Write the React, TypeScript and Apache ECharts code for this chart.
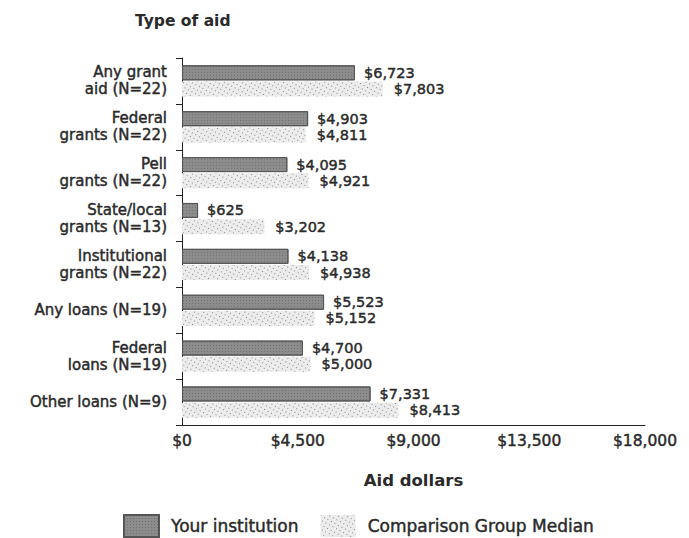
import React, { useEffect, useRef } from "react";
import * as echarts from "echarts";

const categories = [
  "Any grant\naid (N=22)",
  "Federal\ngrants (N=22)",
  "Pell\ngrants (N=22)",
  "State/local\ngrants (N=13)",
  "Institutional\ngrants (N=22)",
  "Any loans (N=19)",
  "Federal\nloans (N=19)",
  "Other loans (N=9)",
];
const yourInstitution = [6723, 4903, 4095, 625, 4138, 5523, 4700, 7331];
const comparisonMedian = [7803, 4811, 4921, 3202, 4938, 5152, 5000, 8413];
const seriesNames = ["Your institution", "Comparison Group Median"];
const xTicks = { min: 0, max: 18000, interval: 4500 };

const fmt = (v: number) => "$" + v.toLocaleString("en-US");
const FONT = "DejaVu Sans";
const TXT = "#2a2a2a";
const semi = { textBorderColor: TXT, textBorderWidth: 0.45 };

export default function App() {
  const ref = useRef<HTMLDivElement>(null);
  useEffect(() => {
    if (!ref.current) return;
    const chart = echarts.init(ref.current, null, { renderer: "svg" });
    chart.setOption({
      animation: false,
      backgroundColor: "#fff",
      textStyle: { fontFamily: FONT },
      title: {
        text: "Type of aid",
        left: 130,
        top: 8,
        textStyle: { fontFamily: FONT, fontSize: 15.5, fontWeight: "bold", color: TXT },
      },
      grid: { left: 182, right: 44, top: 58, bottom: 113, containLabel: false },
      legend: {
        top: 509,
        left: 118,
        itemWidth: 35,
        itemHeight: 22,
        itemGap: 22,
        icon: "rect",
        textStyle: {
          fontFamily: FONT,
          fontSize: 17,
          color: TXT,
          padding: [0, 0, 0, 7],
          ...semi,
        },
        data: seriesNames,
      },
      xAxis: {
        type: "value",
        min: xTicks.min,
        max: xTicks.max,
        interval: xTicks.interval,
        name: "Aid dollars",
        nameLocation: "middle",
        nameGap: 47,
        nameTextStyle: { fontFamily: FONT, fontSize: 16.5, fontWeight: "bold", color: TXT },
        axisLine: { show: true, lineStyle: { color: "#222", width: 1 } },
        axisTick: { show: false },
        splitLine: { show: false },
        axisLabel: {
          formatter: (v: number) => fmt(v),
          fontFamily: FONT,
          fontSize: 15.5,
          color: TXT,
          margin: 8,
          ...semi,
        },
      },
      yAxis: {
        type: "category",
        inverse: true,
        data: categories,
        axisLine: { show: true, lineStyle: { color: "#222", width: 1 } },
        axisTick: { show: true, length: 6, lineStyle: { color: "#222" } },
        axisLabel: {
          fontFamily: FONT,
          fontSize: 15,
          color: TXT,
          lineHeight: 17,
          margin: 15,
          align: "right",
          padding: [0, 0, 3, 0],
          ...semi,
        },
      },
      series: [
        {
          name: seriesNames[0],
          type: "bar",
          data: yourInstitution,
          barWidth: 15,
          barGap: "8%",
          itemStyle: {
            color: "#8c8c8c",
            borderColor: "#555",
            borderWidth: 1,
            decal: {
              symbol: "rect",
              symbolSize: 1,
              color: "rgba(70,70,70,0.35)",
              dashArrayX: [1, 2],
              dashArrayY: [1, 2],
            },
          },
          label: {
            show: true,
            position: "right",
            distance: 9,
            formatter: (p: any) => fmt(p.value),
            fontFamily: FONT,
            fontSize: 14.5,
            color: TXT,
            ...semi,
          },
        },
        {
          name: seriesNames[1],
          type: "bar",
          data: comparisonMedian,
          barWidth: 15,
          itemStyle: {
            color: "#ececec",
            decal: {
              symbol: "rect",
              symbolSize: 1,
              color: "rgba(110,110,110,0.8)",
              dashArrayX: [1, 3],
              dashArrayY: [1, 3],
              rotation: 0.5,
            },
          },
          label: {
            show: true,
            position: "right",
            distance: 11,
            formatter: (p: any) => fmt(p.value),
            fontFamily: FONT,
            fontSize: 14.5,
            color: TXT,
            ...semi,
          },
        },
      ],
    });
    return () => chart.dispose();
  }, []);
  return (
    <div
      ref={ref}
      style={{ position: "fixed", left: 0, top: 0, width: 689, height: 538 }}
    />
  );
}
